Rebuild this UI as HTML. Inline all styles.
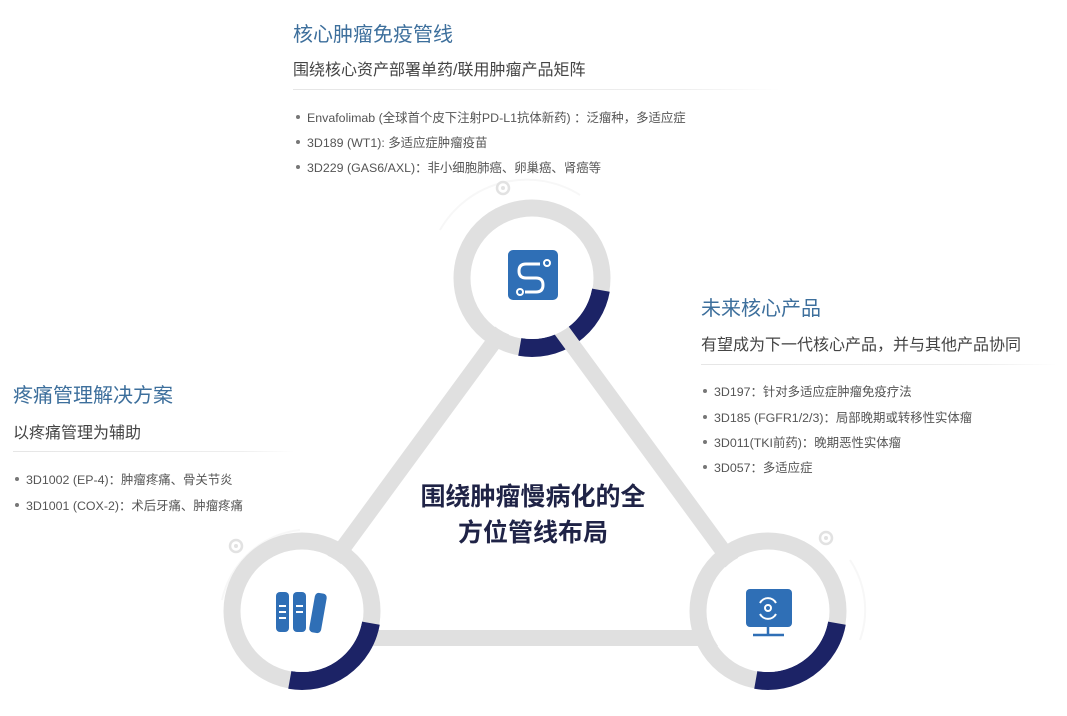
<!DOCTYPE html>
<html><head><meta charset="utf-8"><style>
body{margin:0;width:1067px;height:716px;background:#fff;overflow:hidden;position:relative;font-family:"Liberation Sans","Noto Sans CJK SC",sans-serif;}
.t{position:absolute;color:#3d6f9c;font-size:20px;white-space:nowrap;}
.s{position:absolute;color:#444;font-size:16px;white-space:nowrap;}
.hr{position:absolute;height:1px;background:linear-gradient(90deg,#e6e6e6,#eee 80%,#fff);}
.b{position:absolute;color:#555;font-size:12.4px;white-space:nowrap;}
.b:before{content:"";position:absolute;left:-11px;top:7px;width:4px;height:4px;border-radius:50%;background:#777;}
.c{position:absolute;left:400px;width:266px;text-align:center;color:#1f2346;font-weight:bold;font-size:25px;}
</style></head><body>
<svg width="1067" height="716" style="position:absolute;left:0;top:0">
<g fill="none">
<path d="M440 230 A100 100 0 0 1 580 195" stroke="#f7f7f7" stroke-width="2"/>
<path d="M222 600 A90 90 0 0 1 300 530" stroke="#f7f7f7" stroke-width="2"/>
<path d="M850 560 A90 90 0 0 1 860 640" stroke="#f7f7f7" stroke-width="2"/>
<circle cx="503" cy="188" r="6" stroke="#e2e2e2" stroke-width="2.5" fill="#fff"/><circle cx="503" cy="188" r="2" fill="#e2e2e2"/>
<circle cx="236" cy="546" r="6" stroke="#e2e2e2" stroke-width="2.5" fill="#fff"/><circle cx="236" cy="546" r="2" fill="#e2e2e2"/>
<circle cx="826" cy="538" r="6" stroke="#e2e2e2" stroke-width="2.5" fill="#fff"/><circle cx="826" cy="538" r="2" fill="#e2e2e2"/>
<circle cx="532" cy="278" r="70" stroke="#e0e0e0" stroke-width="17"/>
<circle cx="302" cy="611" r="70" stroke="#e0e0e0" stroke-width="17"/>
<circle cx="768" cy="611" r="70" stroke="#e0e0e0" stroke-width="17"/>
<path d="M600.9 290.2 A70 70 0 0 1 519.8 346.9" stroke="#1c2366" stroke-width="18"/>
<path d="M532 290 L277 638 L787 638 Z" stroke="#e0e0e0" stroke-width="16" stroke-linejoin="round"/>
<path d="M370.9 623.2 A70 70 0 0 1 289.8 679.9" stroke="#1c2366" stroke-width="18"/>
<path d="M836.9 623.2 A70 70 0 0 1 755.8 679.9" stroke="#1c2366" stroke-width="18"/>
</g>
<circle cx="532" cy="278" r="61" fill="#fff"/>
<circle cx="302" cy="611" r="61" fill="#fff"/>
<circle cx="768" cy="611" r="61" fill="#fff"/>
<rect x="508" y="250" width="50" height="50" rx="5" fill="#2f6fb6"/>
<path d="M540 264 H526 Q519 264 519 271 Q519 278 526 278 H536 Q543 278 543 285 Q543 292 536 292 H525" stroke="#fff" stroke-width="3" fill="none"/>
<circle cx="547" cy="263" r="3" stroke="#fff" stroke-width="2" fill="none"/>
<circle cx="520" cy="292" r="3" stroke="#fff" stroke-width="2" fill="none"/>
<rect x="276" y="592" width="13" height="40" rx="4" fill="#2f6fb6"/>
<rect x="293" y="592" width="13" height="40" rx="4" fill="#2f6fb6"/>
<rect x="312" y="593" width="12" height="40" rx="4" fill="#2f6fb6" transform="rotate(10 318 613)"/>
<g stroke="#fff" stroke-width="2"><path d="M279 606h7M279 612h7M279 618h7M296 606h7M296 612h7"/></g>
<rect x="746" y="589" width="46" height="38" rx="4" fill="#2f6fb6"/>
<path d="M768 627 V634 M753 635 H784" stroke="#2f6fb6" stroke-width="2.5"/>
<circle cx="768" cy="608" r="3" stroke="#fff" stroke-width="2" fill="none"/>
<path d="M760 603 A9 9 0 0 1 776 603 M776 614 A9 9 0 0 1 760 614" stroke="#fff" stroke-width="2" fill="none"/>
</svg>

<div class="t" style="left:293px;top:18px">核心肿瘤免疫管线</div>
<div class="s" style="left:293px;top:56px">围绕核心资产部署单药/联用肿瘤产品矩阵</div>
<div class="hr" style="left:293px;top:89px;width:487px"></div>
<div class="b" style="left:307px;top:108px">Envafolimab (全球首个皮下注射PD-L1抗体新药) ：泛瘤种，多适应症</div>
<div class="b" style="left:307px;top:133px">3D189 (WT1): 多适应症肿瘤疫苗</div>
<div class="b" style="left:307px;top:158px">3D229 (GAS6/AXL)：非小细胞肺癌、卵巢癌、肾癌等</div>

<div class="t" style="left:701px;top:292px">未来核心产品</div>
<div class="s" style="left:701px;top:331px">有望成为下一代核心产品，并与其他产品协同</div>
<div class="hr" style="left:701px;top:364px;width:356px"></div>
<div class="b" style="left:714px;top:382px">3D197：针对多适应症肿瘤免疫疗法</div>
<div class="b" style="left:714px;top:408px">3D185 (FGFR1/2/3)：局部晚期或转移性实体瘤</div>
<div class="b" style="left:714px;top:433px">3D011(TKI前药)：晚期恶性实体瘤</div>
<div class="b" style="left:714px;top:458px">3D057：多适应症</div>

<div class="t" style="left:13px;top:379px">疼痛管理解决方案</div>
<div class="s" style="left:13px;top:419px">以疼痛管理为辅助</div>
<div class="hr" style="left:13px;top:451px;width:282px"></div>
<div class="b" style="left:26px;top:470px">3D1002 (EP-4)：肿瘤疼痛、骨关节炎</div>
<div class="b" style="left:26px;top:496px">3D1001 (COX-2)：术后牙痛、肿瘤疼痛</div>

<div class="c" style="top:477px">围绕肿瘤慢病化的全</div>
<div class="c" style="top:513px">方位管线布局</div>
</body></html>
